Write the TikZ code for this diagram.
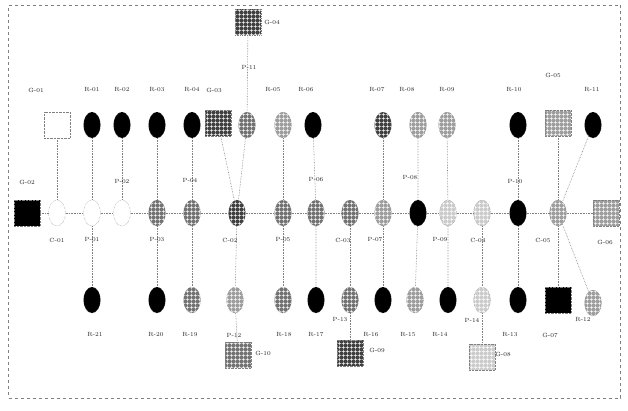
\documentclass[tikz,border=0pt]{standalone}
\usetikzlibrary{patterns.meta,shapes.geometric}
\begin{document}
\begin{tikzpicture}[x=1pt,y=-1pt,
  el/.style={ellipse,draw=gray,densely dotted,minimum width=17pt,minimum height=26pt,inner sep=0pt},
  sq/.style={rectangle,draw=gray,densely dotted,minimum size=26pt,inner sep=0pt},
  blk/.style={fill=black},
  wt/.style={fill=white},
  grd/.style={pattern={Hatch[angle=0,distance=4pt,line width=0.7pt]},pattern color=white},
  dk/.style={preaction={fill=black!75},grd},
  md/.style={preaction={fill=black!55},grd},
  lt/.style={preaction={fill=black!38},grd},
  vl/.style={preaction={fill=black!20},grd},
  lab/.style={font=\fontsize{6}{7}\selectfont,inner sep=1pt,text=black!85},
  cn/.style={draw=gray,densely dotted,line width=0.6pt}]
\useasboundingbox (0,0) rectangle (628,410);
\node[draw=gray,dashed,minimum width=612pt,minimum height=393pt,inner sep=0pt] (frame) at (314.5,201.5) {};
% top row
\node[sq,dk] (G04) at (248,22) {};
\node[sq,wt] (G01) at (57,125) {};
\node[el,blk] (R01) at (92,125) {};
\node[el,blk] (R02) at (122,125) {};
\node[el,blk] (R03) at (157,125) {};
\node[el,blk] (R04) at (192,125) {};
\node[sq,dk] (G03) at (218,123) {};
\node[el,md] (P11) at (247,125) {};
\node[el,lt] (R05) at (283,125) {};
\node[el,blk] (R06) at (313,125) {};
\node[el,dk] (R07) at (383,125) {};
\node[el,lt] (R08) at (418,125) {};
\node[el,lt] (R09) at (447,125) {};
\node[el,blk] (R10) at (518,125) {};
\node[sq,lt] (G05) at (558,123) {};
\node[el,blk] (R11) at (593,125) {};
% middle row
\node[sq,blk] (G02) at (27,213) {};
\node[el,wt] (C01) at (57,213) {};
\node[el,wt] (P01) at (92,213) {};
\node[el,wt] (P02) at (122,213) {};
\node[el,md] (P03) at (157,213) {};
\node[el,md] (P04) at (192,213) {};
\node[el,dk] (C02) at (237,213) {};
\node[el,md] (P05) at (283,213) {};
\node[el,md] (P06) at (316,213) {};
\node[el,md] (C03) at (350,213) {};
\node[el,lt] (P07) at (383,213) {};
\node[el,blk] (P08) at (418,213) {};
\node[el,vl] (P09) at (448,213) {};
\node[el,vl] (C04) at (482,213) {};
\node[el,blk] (P10) at (518,213) {};
\node[el,lt] (C05) at (558,213) {};
\node[sq,lt] (G06) at (606,213) {};
% bottom row
\node[el,blk] (R21) at (92,300) {};
\node[el,blk] (R20) at (157,300) {};
\node[el,md] (R19) at (192,300) {};
\node[el,lt] (P12) at (235,300) {};
\node[el,md] (R18) at (283,300) {};
\node[el,blk] (R17) at (316,300) {};
\node[el,md] (P13) at (350,300) {};
\node[el,blk] (R16) at (383,300) {};
\node[el,lt] (R15) at (415,300) {};
\node[el,blk] (R14) at (448,300) {};
\node[el,vl] (P14) at (482,300) {};
\node[el,blk] (R13) at (518,300) {};
\node[sq,blk] (G07) at (558,300) {};
\node[el,lt] (R12) at (593,303) {};
\node[sq,md] (G10) at (238,355) {};
\node[sq,dk] (G09) at (350,353) {};
\node[sq,vl] (G08) at (482,357) {};
% connectors: horizontal chain
\draw[cn] (G02)--(C01)--(P01)--(P02)--(P03)--(P04)--(C02)--(P05)--(P06)--(C03)--(P07)--(P08)--(P09)--(C04)--(P10)--(C05)--(G06);
% verticals
\draw[cn] (G01)--(C01);
\draw[cn] (R01)--(P01)--(R21);
\draw[cn] (R02)--(P02);
\draw[cn] (R03)--(P03)--(R20);
\draw[cn] (R04)--(P04)--(R19);
\draw[cn] (G04)--(P11)--(C02);
\draw[cn] (G03)--(C02)--(P12)--(G10);
\draw[cn] (R05)--(P05)--(R18);
\draw[cn] (R06)--(P06)--(R17);
\draw[cn] (C03)--(P13)--(G09);
\draw[cn] (R07)--(P07)--(R16);
\draw[cn] (R08)--(P08)--(R15);
\draw[cn] (R09)--(P09)--(R14);
\draw[cn] (C04)--(P14)--(G08);
\draw[cn] (R10)--(P10)--(R13);
\draw[cn] (G05)--(C05)--(G07);
\draw[cn] (R11)--(C05)--(R12);
% labels
\node[lab] (lG04) at (272,22) {G-04};
\node[lab] (lG01) at (36,90) {G-01};
\node[lab] (lR01) at (92,90) {R-01};
\node[lab] (lR02) at (122,90) {R-02};
\node[lab] (lR03) at (157,90) {R-03};
\node[lab] (lR04) at (192,90) {R-04};
\node[lab] (lG03) at (214,90) {G-03};
\node[lab] (lP11) at (249,67) {P-11};
\node[lab] (lR05) at (273,90) {R-05};
\node[lab] (lR06) at (306,90) {R-06};
\node[lab] (lR07) at (377,90) {R-07};
\node[lab] (lR08) at (407,90) {R-08};
\node[lab] (lR09) at (447,90) {R-09};
\node[lab] (lR10) at (514,90) {R-10};
\node[lab] (lG05) at (553,75) {G-05};
\node[lab] (lR11) at (592,90) {R-11};
\node[lab] (lG02) at (27,182) {G-02};
\node[lab] (lC01) at (57,240) {C-01};
\node[lab] (lP01) at (92,240) {P-01};
\node[lab] (lP02) at (122,182) {P-02};
\node[lab] (lP03) at (157,240) {P-03};
\node[lab] (lP04) at (190,181) {P-04};
\node[lab] (lC02) at (230,240) {C-02};
\node[lab] (lP05) at (283,240) {P-05};
\node[lab] (lP06) at (316,180) {P-06};
\node[lab] (lC03) at (343,240) {C-03};
\node[lab] (lP07) at (375,240) {P-07};
\node[lab] (lP08) at (410,178) {P-08};
\node[lab] (lP09) at (440,240) {P-09};
\node[lab] (lC04) at (478,240) {C-04};
\node[lab] (lP10) at (515,182) {P-10};
\node[lab] (lC05) at (543,240) {C-05};
\node[lab] (lG06) at (605,242) {G-06};
\node[lab] (lR21) at (95,335) {R-21};
\node[lab] (lR20) at (156,335) {R-20};
\node[lab] (lR19) at (190,335) {R-19};
\node[lab] (lP12) at (234,335) {P-12};
\node[lab] (lR18) at (284,335) {R-18};
\node[lab] (lR17) at (316,335) {R-17};
\node[lab] (lP13) at (340,320) {P-13};
\node[lab] (lR16) at (371,335) {R-16};
\node[lab] (lR15) at (408,335) {R-15};
\node[lab] (lR14) at (440,335) {R-14};
\node[lab] (lP14) at (472,320) {P-14};
\node[lab] (lR13) at (510,335) {R-13};
\node[lab] (lG07) at (550,335) {G-07};
\node[lab] (lR12) at (583,320) {R-12};
\node[lab] (lG10) at (263,353) {G-10};
\node[lab] (lG09) at (377,350) {G-09};
\node[lab] (lG08) at (503,354) {G-08};
\end{tikzpicture}
\end{document}
